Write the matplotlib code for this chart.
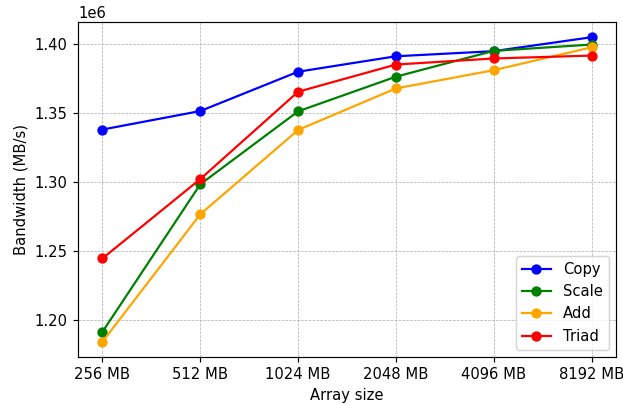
import matplotlib
matplotlib.use('Agg')
import matplotlib.pyplot as plt

sizes = ['256 MB', '512 MB', '1024 MB', '2048 MB', '4096 MB', '8192 MB']

copy = [1337700, 1351100, 1379600, 1390800, 1394500, 1404600]
scale = [1191100, 1298000, 1350900, 1376000, 1394700, 1399300]
add = [1183900, 1276300, 1337400, 1367500, 1380700, 1397300]
triad = [1244300, 1301800, 1365100, 1384800, 1389200, 1391300]

dpi = 106
fig = plt.figure(figsize=(623/dpi, 405/dpi), dpi=dpi)
ax = fig.add_axes([78/623, 1 - 357/405, (616-78)/623, (357-22)/405])

ax.plot(sizes, copy, marker='o', color='blue', label='Copy')
ax.plot(sizes, scale, marker='o', color='green', label='Scale')
ax.plot(sizes, add, marker='o', color='orange', label='Add')
ax.plot(sizes, triad, marker='o', color='red', label='Triad')

ax.set_xlabel('Array size')
ax.set_ylabel('Bandwidth (MB/s)')
ax.grid(True, linestyle='--', linewidth=0.5, color='#b0b0b0')
ax.legend(loc='lower right')

plt.savefig('out.png', dpi=dpi)
